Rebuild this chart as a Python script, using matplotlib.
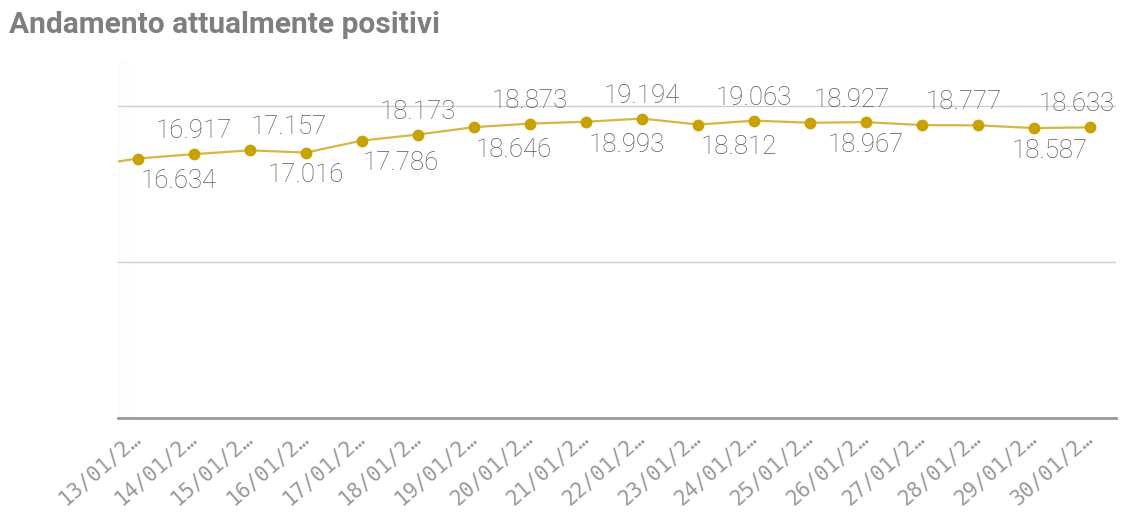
"""
Andamento attualmente positivi - grafico a linea (stile Qlik)
"""
import matplotlib.pyplot as plt
import numpy as np

# dati (il 12/01 e' fuori vista, stimato dal tratto di linea a sinistra)
dates = ['12/01/2021', '13/01/2021', '14/01/2021', '15/01/2021', '16/01/2021',
         '17/01/2021', '18/01/2021', '19/01/2021', '20/01/2021', '21/01/2021',
         '22/01/2021', '23/01/2021', '24/01/2021', '25/01/2021', '26/01/2021',
         '27/01/2021', '28/01/2021', '29/01/2021', '30/01/2021']
positivi = [16100, 16634, 16917, 17157, 17016, 17786, 18173, 18646, 18873, 18993,
            19194, 18812, 19063, 18927, 18967, 18777, 18760, 18587, 18633]
y_ticks = [0, 10000, 20000]

# posizione delle etichette: (spostamento x in px, sopra/sotto), None = nascosta
label_pos = [None, (41, -1), (0, 1), (39, 1), (0, -1), (39, -1), (0, 1), (40, -1),
             (0, 1), (41, -1), (0, 1), (41, -1), (0, 1), (42, 1), (0, -1), (42, 1),
             None, (15, -1), (-14, 1)]

GOLD = '#c9a200'
LINE = '#d4b744'
GREY_TXT = '#5a5a5a'

x = np.arange(len(dates)) - 1   # 13/01 -> 0

fig = plt.figure(figsize=(11.22, 5.2), dpi=100)
ax = fig.add_axes([118 / 1122, 1 - 418 / 520, (1116 - 118) / 1122, (418 - 60) / 520])

fig.text(9 / 1122, 1 - 25 / 520, 'Andamento attualmente positivi', fontsize=21.5,
         fontweight='bold', color='#7f7f7f', family='Roboto', va='center')

ax.plot(x, positivi, color=LINE, lw=1.6, zorder=3, clip_on=True)
ax.plot(x[1:], positivi[1:], 'o', color=GOLD, ms=7.5, zorder=4)

for xi, v, pos in zip(x, positivi, label_pos):
    if pos is None:
        continue
    dx, side = pos
    txt = f'{v:,}'.replace(',', '.')
    ax.annotate(txt, (xi, v), xytext=(dx * 0.72, side * 16.5), textcoords='offset points',
                ha='center', va='center', fontsize=18.5, color=GREY_TXT,
                family='Roboto', fontweight='light', zorder=5)

ax.set_xlim(-0.357, 17.46)
ax.set_ylim(0, 22950)
ax.set_yticks(y_ticks)
ax.yaxis.grid(True, color='#d0d0d0', lw=1)
ax.set_axisbelow(True)
ax.tick_params(axis='y', length=0, labelleft=False)

ax.set_xticks(x[1:])
ax.set_xticklabels([d[:7] + '\u2026' for d in dates[1:]], rotation=41,
                   rotation_mode='anchor', ha='right', va='center',
                   family='DejaVu Sans Mono', fontsize=15, color='#9a9a9a')
ax.tick_params(axis='x', length=0, pad=12)

for s in ['top', 'right', 'left']:
    ax.spines[s].set_visible(False)
ax.spines['bottom'].set_color('#999999')
ax.spines['bottom'].set_linewidth(2)

# leggera sfumatura a sinistra (indicatore di scorrimento)
grad = np.linspace(1, 0, 50).reshape(1, -1)
ax.imshow(grad, extent=[0, 0.018, 0, 1], transform=ax.transAxes, aspect='auto',
          cmap='Greys', vmin=0, vmax=45, zorder=0)
ax.set_xlim(-0.357, 17.46)
ax.set_ylim(0, 22950)

fig.savefig('out.png', dpi=100)
